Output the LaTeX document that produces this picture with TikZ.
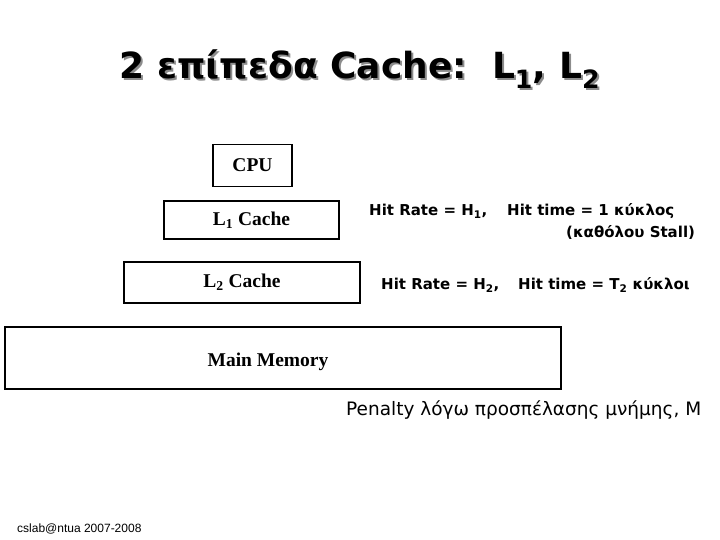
\documentclass[tikz,border=0pt]{standalone}
\usepackage{fontspec}
\setmainfont{Liberation Serif}
\newfontfamily\comicf{DejaVu Sans}
\newfontfamily\arialf{Liberation Sans}
\newcommand\titlecontent{2 επίπεδα Cache:\ \ L\textsubscript{1}, L\textsubscript{2}}
\tikzset{
  membox/.style={draw=black, line width=1.6pt, inner sep=0pt, font=\bfseries\fontsize{19.5}{22}\selectfont},
  hittxt/.style={font=\comicf\bfseries\fontsize{15}{17}\selectfont, inner sep=0pt},
  titletxt/.style={font=\comicf\bfseries\fontsize{36}{40}\selectfont, inner sep=0pt}
}
\begin{document}
\begin{tikzpicture}[x=1pt,y=-1pt]
\useasboundingbox (0,0) rectangle (720,540);
% title with shadow (one text node)
\node[titletxt] (title) at (360,70) {\makebox[0pt][l]{\hspace{2pt}\raisebox{-2pt}{\textcolor{black!45}{\titlecontent}}}\titlecontent};
% boxes
\node[membox, minimum width=79, minimum height=42] (cpu) at (252.5,165.5) {CPU};
\node[membox, minimum width=175, minimum height=38] (l1) at (251.5,220) {L\textsubscript{1} Cache};
\node[membox, minimum width=236, minimum height=41] (l2) at (242,282.5) {L\textsubscript{2} Cache};
\node[membox, minimum width=556, minimum height=62] (mm) at (283,358) {};
\node[font=\bfseries\fontsize{19.5}{22}\selectfont, inner sep=0pt] (mmtxt) at (268,362) {Main Memory};
% hit texts
\node[hittxt, anchor=west] (hr1) at (369,211) {Hit Rate = H\textsubscript{1},};
\node[hittxt, anchor=west] (ht1) at (507,211) {Hit time = 1 κύκλος};
\node[hittxt, anchor=west] (st1) at (566,232) {(καθόλου Stall)};
\node[hittxt, anchor=west] (hr2) at (381,285) {Hit Rate = H\textsubscript{2},};
\node[hittxt, anchor=west] (ht2) at (518,285) {Hit time = T\textsubscript{2} κύκλοι};
% penalty
\node[font=\comicf\fontsize{18.5}{21}\selectfont, inner sep=0pt, anchor=west] (pen) at (346,410) {Penalty λόγω προσπέλασης μνήμης, M};
% footer
\node[font=\arialf\fontsize{12}{14}\selectfont, inner sep=0pt, anchor=west] (foot) at (17,529) {cslab@ntua 2007-2008};
\end{tikzpicture}
\end{document}
